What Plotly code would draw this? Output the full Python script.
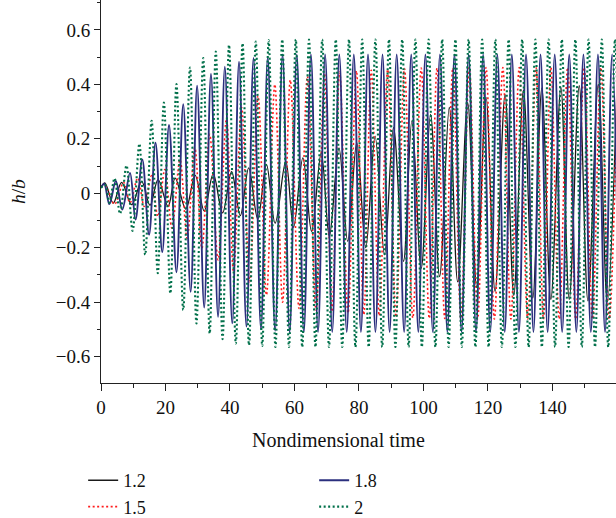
import plotly.graph_objects as go

# ---- data (times / extreme values of each oscillation) ----
t_12 = [0, 1.2, 3.8, 6.4, 9.5, 12.6, 15.2, 17.7, 20.8, 23.0, 26.3, 29.2, 32.0, 34.8, 37.7,
        40.5, 43.2, 45.8, 48.6, 51.3, 54.0, 57.3, 59.7, 62.6, 65.3, 68.3, 70.8, 73.8, 76.5,
        79.3, 82.1, 85.0, 87.9, 90.7, 93.8, 96.4, 99.3, 102.2, 105.0, 108.0, 110.6, 113.7,
        116.5, 119.4, 122.2, 125.3, 128.0, 131.0, 133.9, 136.7, 139.5, 142.6, 145.2, 148.3,
        151.0, 154.2, 157.0, 160.0]
h_12 = [0.02, 0.038, -0.036, 0.04, -0.042, 0.044, -0.044, 0.05, -0.048, 0.056, -0.058, 0.066,
        -0.065, 0.071, -0.072, 0.079, -0.082, 0.093, -0.095, 0.106, -0.11, 0.118, -0.125, 0.13,
        -0.14, 0.149, -0.159, 0.167, -0.177, 0.186, -0.20, 0.21, -0.226, 0.241, -0.25, 0.266,
        -0.276, 0.29, -0.306, 0.315, -0.325, 0.333, -0.345, 0.352, -0.36, 0.362, -0.375, 0.379,
        -0.385, 0.386, -0.39, 0.389, -0.39, 0.395, -0.395, 0.40, -0.40, 0.40]

t_15 = [0, 1.2, 4.2, 7.0, 9.0, 11.4, 13.4, 15.7, 17.6, 19.8, 22.0, 24.5, 26.7, 29.1, 31.3,
        33.7, 36.3, 38.9, 41.1, 43.6, 46.1, 48.7, 51.3, 53.9, 56.3, 58.7, 61.4, 64.0, 66.7,
        69.3, 71.6, 74.0, 76.6, 79.2, 81.5, 83.8, 86.3, 88.9, 91.5, 94.1, 96.7, 99.3, 101.8,
        104.2, 106.6, 109.1, 111.6, 114.2, 116.8, 119.4, 122.0, 124.6, 127.1, 129.7, 132.3,
        134.9, 137.2, 139.5, 142.1, 144.7, 147.2, 149.8, 152.4, 155.0, 157.6, 160.2]
h_15 = [0.025, 0.03, -0.04, 0.04, -0.035, 0.056, -0.048, 0.065, -0.085, 0.087, -0.128, 0.124,
        -0.165, 0.167, -0.202, 0.217, -0.245, 0.272, -0.288, 0.315, -0.325, 0.358, -0.374, 0.40,
        -0.40, 0.416, -0.423, 0.43, -0.43, 0.44, -0.435, 0.445, -0.44, 0.45, -0.447, 0.452,
        -0.45, 0.455, -0.455, 0.458, -0.458, 0.46, -0.46, 0.46, -0.46, 0.46, -0.46, 0.462,
        -0.462, 0.462, -0.462, 0.462, -0.462, 0.462, -0.462, 0.462, -0.462, 0.462, -0.462,
        0.462, -0.462, 0.462, -0.462, 0.462, -0.462, 0.462]

t_18 = [0, 1.0, 2.6, 4.6, 6.6, 9.0, 10.7, 12.8, 14.9, 16.9, 19.0, 21.1, 23.4, 25.5, 27.8,
        29.8, 32.0, 34.1, 36.3, 38.4, 40.7, 42.8, 45.1, 47.3, 49.6, 51.7, 54.0, 56.3, 58.5,
        60.7, 62.9, 65.1, 67.3, 69.5, 71.7, 73.9, 76.2, 78.4, 80.6, 82.8, 85.1, 87.3, 89.5,
        91.7, 94.0, 96.2, 98.4, 100.6, 102.9, 105.1, 107.4, 109.6, 111.8, 114.0, 116.3, 118.5,
        120.7, 122.9, 125.2, 127.4, 129.6, 131.8, 134.1, 136.3, 138.5, 140.7, 143.0, 145.2,
        147.4, 149.6, 151.9, 154.1, 156.3, 158.5, 160.7]
h_18 = [0.02, 0.035, -0.04, 0.045, -0.06, 0.075, -0.097, 0.124, -0.152, 0.186, -0.216, 0.251,
        -0.29, 0.327, -0.362, 0.395, -0.42, 0.438, -0.454, 0.465, -0.478, 0.483, -0.49, 0.497,
        -0.50, 0.50, -0.505, 0.51, -0.51, 0.51, -0.51, 0.51, -0.51, 0.51, -0.51, 0.51, -0.51,
        0.51, -0.51, 0.51, -0.51, 0.51, -0.51, 0.51, -0.51, 0.51, -0.51, 0.51, -0.51, 0.51,
        -0.51, 0.51, -0.51, 0.51, -0.51, 0.51, -0.51, 0.51, -0.51, 0.51, -0.51, 0.51, -0.51,
        0.51, -0.51, 0.51, -0.51, 0.51, -0.51, 0.51, -0.51, 0.51, -0.51, 0.51, -0.51]

t_20 = [0, 1.3, 2.6, 4.2, 5.9, 7.9, 9.8, 11.9, 13.7, 15.7, 17.6, 19.5, 21.5, 23.4, 25.5,
        27.6, 29.6, 31.7, 33.7, 35.6, 37.7, 39.7, 41.8, 43.9, 45.9, 48.0, 50.0, 52.0, 54.1,
        56.2, 58.3, 60.4, 62.4, 64.5, 66.5, 68.6, 70.7, 72.8, 74.8, 76.9, 78.9, 81.0, 83.0,
        85.1, 87.2, 89.3, 91.3, 93.4, 95.4, 97.5, 99.5, 101.6, 103.7, 105.8, 107.8, 109.9,
        111.9, 114.0, 116.1, 118.2, 120.2, 122.3, 124.3, 126.4, 128.5, 130.6, 132.6, 134.7,
        136.7, 138.8, 140.8, 142.9, 145.0, 147.1, 149.1, 151.2, 153.2, 155.3, 157.3, 159.4,
        161.4]
h_20 = [0.02, 0.03, -0.035, 0.055, -0.075, 0.102, -0.138, 0.182, -0.226, 0.266, -0.294, 0.333,
        -0.368, 0.401, -0.429, 0.462, -0.478, 0.497, -0.515, 0.521, -0.536, 0.545, -0.552,
        0.551, -0.558, 0.557, -0.561, 0.563, -0.565, 0.565, -0.565, 0.565, -0.565, 0.565,
        -0.565, 0.565, -0.565, 0.565, -0.565, 0.565, -0.565, 0.565, -0.565, 0.565, -0.565,
        0.565, -0.565, 0.565, -0.565, 0.565, -0.565, 0.565, -0.565, 0.565, -0.565, 0.565,
        -0.565, 0.565, -0.565, 0.565, -0.565, 0.565, -0.565, 0.565, -0.565, 0.565, -0.565,
        0.565, -0.565, 0.565, -0.565, 0.565, -0.565, 0.565, -0.565, 0.565, -0.565, 0.565,
        -0.565, 0.565, -0.565]

x_ticks = [0, 20, 40, 60, 80, 100, 120, 140]
y_ticks = [-0.6, -0.4, -0.2, 0, 0.2, 0.4, 0.6]
y_tick_text = ["\u22120.6", "\u22120.4", "\u22120.2", "0", "0.2", "0.4", "0.6"]

FONT = "Liberation Serif"

fig = go.Figure()
fig.add_trace(go.Scatter(x=t_12, y=h_12, mode="lines", name="1.2", legend="legend",
                         line=dict(color="#1a1a1a", width=1.3, shape="spline")))
fig.add_trace(go.Scatter(x=t_15, y=h_15, mode="lines", name="1.5", legend="legend",
                         line=dict(color="#ff1c1c", width=1.6, dash="2px,2.5px", shape="spline")))
fig.add_trace(go.Scatter(x=t_18, y=h_18, mode="lines", name="1.8", legend="legend2",
                         line=dict(color="#2b2f7e", width=1.9, shape="spline")))
fig.add_trace(go.Scatter(x=t_20, y=h_20, mode="lines", name="2", legend="legend2",
                         line=dict(color="#00704a", width=2.1, dash="2px,2.5px", shape="spline")))

fig.update_layout(
    width=616, height=518,
    margin=dict(l=101, r=0, t=0, b=135, autoexpand=False),
    paper_bgcolor="white", plot_bgcolor="white",
    font=dict(family=FONT, size=19, color="#111"),
    xaxis=dict(range=[0, 159.7], tickvals=x_ticks, ticks="outside", ticklen=7, tickwidth=1,
               tickcolor="#222", showline=True, linecolor="#222", linewidth=1, showgrid=False,
               zeroline=False, automargin=False,
               minor=dict(dtick=10, ticks="outside", ticklen=4, tickcolor="#222")),
    yaxis=dict(range=[-0.697, 0.71], tickvals=y_ticks, ticktext=y_tick_text, ticks="outside",
               ticklen=6, tickwidth=1, tickcolor="#222", showline=True, linecolor="#222",
               linewidth=1, showgrid=False, zeroline=False, automargin=False,
               minor=dict(tickvals=[-0.7, -0.5, -0.3, -0.1, 0.1, 0.3, 0.5, 0.7], ticks="outside",
                          ticklen=3, tickcolor="#222")),
    annotations=[
        dict(text="<i>h</i>/<i>b</i>", xref="paper", yref="paper", x=-0.16, y=0.5,
             xanchor="center", yanchor="middle", textangle=-90, showarrow=False,
             font=dict(size=19.5)),
        dict(text="Nondimensional time", xref="paper", yref="paper", x=0.462, y=-0.149,
             xanchor="center", yanchor="middle", showarrow=False, font=dict(size=20)),
    ],
    legend=dict(xref="container", yref="container", x=0.135, y=0.108, xanchor="left",
                yanchor="top", bgcolor="rgba(0,0,0,0)", font=dict(size=18), tracegroupgap=0,
                itemwidth=30),
    legend2=dict(xref="container", yref="container", x=0.51, y=0.108, xanchor="left",
                 yanchor="top", bgcolor="rgba(0,0,0,0)", font=dict(size=18), tracegroupgap=0,
                 itemwidth=30),
    showlegend=True,
)

fig.write_html("out.html", config={"displayModeBar": False},
               post_script="document.body.style.margin='0';document.body.style.padding='0';")
